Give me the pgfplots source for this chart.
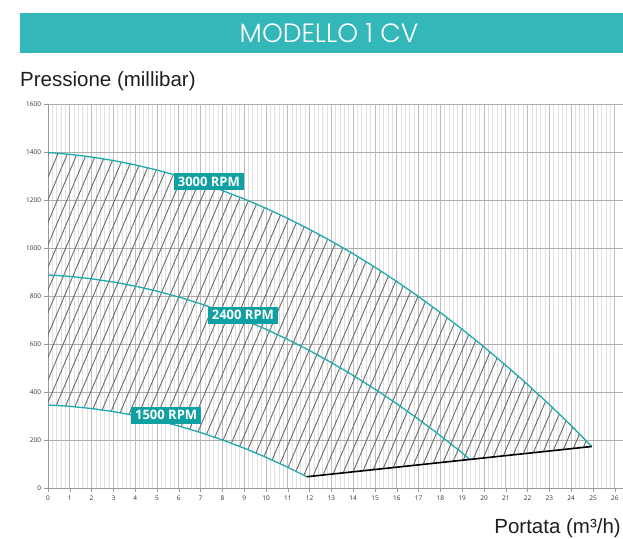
\documentclass[border=0pt]{standalone}
\usepackage{fontspec}
\setmainfont{Open Sans}
\newfontfamily\titlefont{Poppins Light}
\newfontfamily\axfont{Liberation Sans}
\usepackage{pgfplots}
\pgfplotsset{compat=1.18}
\usetikzlibrary{patterns.meta}
\definecolor{barteal}{HTML}{34B7B9}
\definecolor{boxteal}{HTML}{0FA0A1}
\definecolor{curveteal}{HTML}{1DAAAD}
\definecolor{majgrid}{HTML}{BDBDBD}
\definecolor{mingrid}{HTML}{E0E0E0}
\definecolor{hgrid}{HTML}{ADADAD}
\begin{document}
\begin{tikzpicture}[x=1pt,y=1pt]
% title bar
\fill[barteal] (20,485) rectangle (640,525);
\node[text=white, font=\titlefont\fontsize{26.5}{26.5}\selectfont] at (329,505) {MODELLO 1 CV};
\node[anchor=base west, inner sep=0pt, text=black!88, font=\axfont\fontsize{20.5}{20.5}\selectfont] at (20,451) {Pressione (millibar)};
\node[anchor=base east, inner sep=0pt, text=black!88, font=\axfont\fontsize{20.5}{20.5}\selectfont] at (621,5) {Portata (m³/h)};
\begin{axis}[
  at={(48pt,49.5pt)}, anchor=south west,
  scale only axis, width=579.88pt, height=384pt,
  xmin=0, xmax=26.6, ymin=0, ymax=1600,
  xtick={0,1,...,26}, ytick={0,200,...,1600},
  minor x tick num=4,
  axis lines*=left,
  axis line style={draw=black!40, line width=0.9pt},
  grid=both,
  major grid style={draw=majgrid, line width=0.9pt},
  minor grid style={draw=mingrid, line width=0.9pt},
  y grid style={draw=hgrid, line width=0.9pt},
  tick align=outside, major tick length=3.5pt, minor tick length=0pt,
  tick style={draw=black!40, line width=0.6pt},
  /pgf/number format/assume math mode=true,
  /pgf/number format/set thousands separator={},
  ticklabel style={font=\fontsize{6.5}{6.5}\selectfont, text=black!80},
  clip=false,
]
% hatched operating region
\addplot[draw=none, pattern={Lines[angle=67,distance=8.8pt,line width=0.9pt]}, pattern color=black!58] coordinates {
 (0,1400) (1,1392.3) (2,1381.1) (3,1366.5) (4,1348.4) (5,1326.9) (6,1301.9) (7,1273.5) (8,1241.6) (9,1206.3) (10,1167.5) (11,1125.3) (12,1079.6) (13,1030.5) (14,977.9) (15,921.9) (16,862.4) (17,799.5) (18,733.1) (19,663.3) (20,590) (21,513.3) (22,433.1) (23,349.5) (24,262.4) (24.94,175)
 (11.87,49)
 (11,88.4) (10,130) (9,168) (8,202.4) (7,233.2) (6,260.4) (5,284) (4,304) (3,320.4) (2,333.2) (1,342.4) (0,348) (0,1400)
};
% 3000 RPM
\addplot[curveteal, line width=1.3pt] coordinates {
 (0,1400) (1,1392.3) (2,1381.1) (3,1366.5) (4,1348.4) (5,1326.9) (6,1301.9) (7,1273.5) (8,1241.6) (9,1206.3) (10,1167.5) (11,1125.3) (12,1079.6) (13,1030.5) (14,977.9) (15,921.9) (16,862.4) (17,799.5) (18,733.1) (19,663.3) (20,590) (21,513.3) (22,433.1) (23,349.5) (24,262.4) (24.94,175)
};
% 2400 RPM
\addplot[curveteal, line width=1.3pt] coordinates {
 (0,890) (1,883.7) (2,873.8) (3,860.3) (4,843.1) (5,822.3) (6,797.8) (7,769.7) (8,737.9) (9,702.5) (10,663.5) (11,620.8) (12,574.5) (13,524.6) (14,471.0) (15,413.8) (16,352.9) (17,288.4) (18,220.2) (19,148.4) (19.35,121)
};
% 1500 RPM
\addplot[curveteal, line width=1.3pt] coordinates {
 (0,348) (1,342.4) (2,333.2) (3,320.4) (4,304) (5,284) (6,260.4) (7,233.2) (8,202.4) (9,168) (10,130) (11,88.4) (11.87,49)
};
% minimum line
\addplot[black, line width=1.6pt] coordinates {(11.87,49) (24.94,175)};
% labels
\node[fill=boxteal, text=white, font=\bfseries\fontsize{13}{13}\selectfont, inner xsep=4pt, inner ysep=3.8pt] at (axis cs:7.38,1278) {3000 RPM};
\node[fill=boxteal, text=white, font=\bfseries\fontsize{13}{13}\selectfont, inner xsep=4pt, inner ysep=3.8pt] at (axis cs:8.94,722) {2400 RPM};
\node[fill=boxteal, text=white, font=\bfseries\fontsize{13}{13}\selectfont, inner xsep=4pt, inner ysep=3.8pt] at (axis cs:5.42,305) {1500 RPM};
\end{axis}
\pgfresetboundingbox
\useasboundingbox (0,0) rectangle (623,538);
\end{tikzpicture}
\end{document}
